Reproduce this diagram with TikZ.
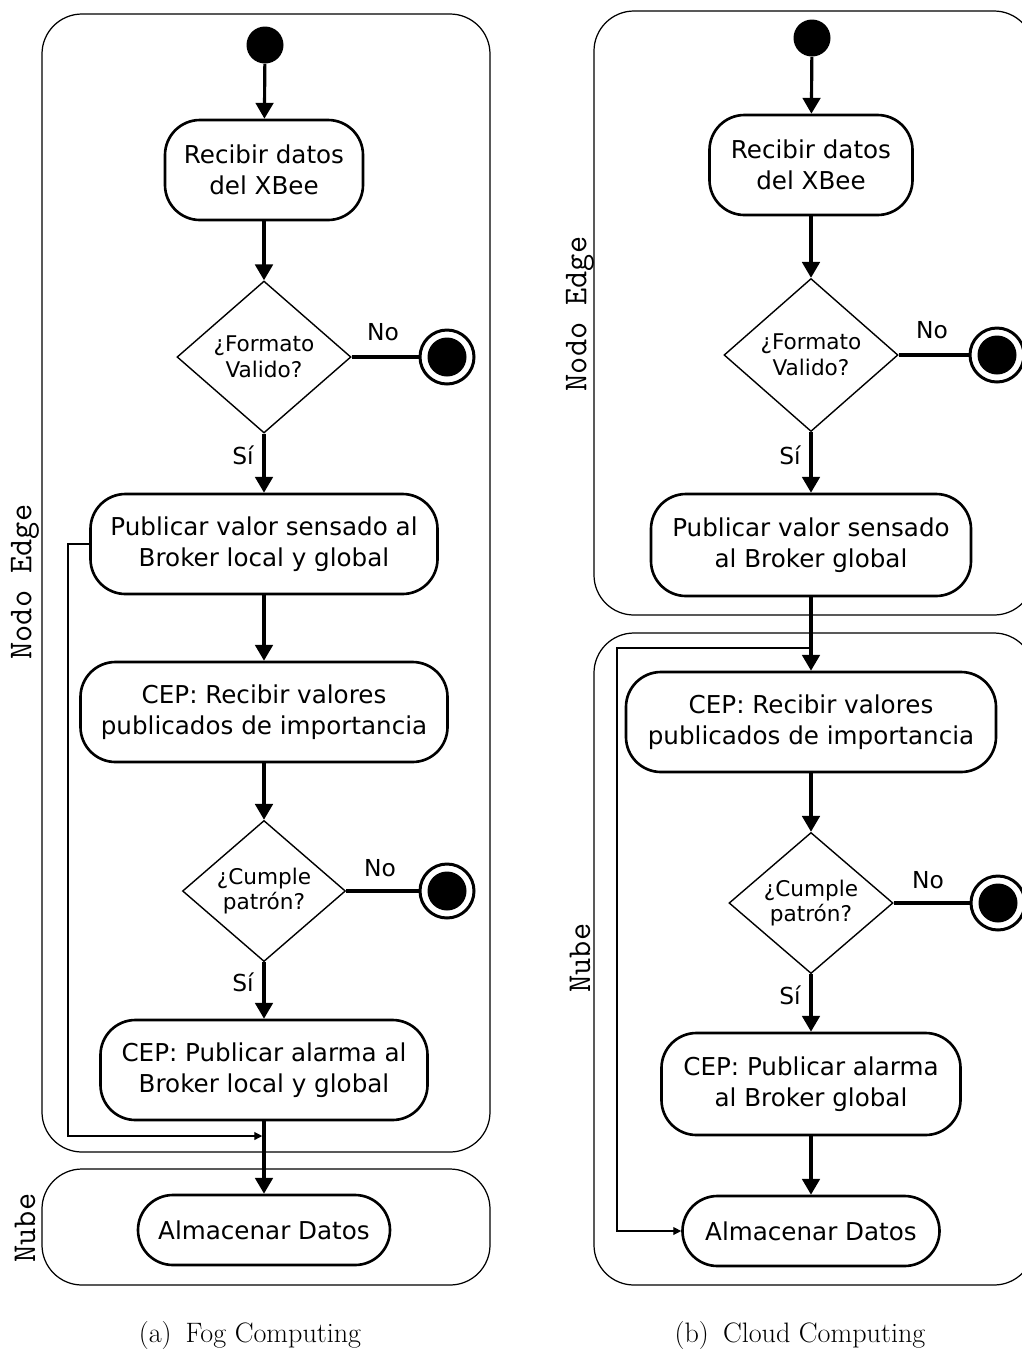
\documentclass[tikz,border=0pt]{standalone}
\usepackage{fontspec}
\newfontfamily\dejavu{DejaVu Sans}
\usetikzlibrary{shapes.geometric,arrows.meta}

\begin{document}
\begin{tikzpicture}[x=0.2mm, y=-0.2mm,
    lane/.style={draw, line width=0.7pt, rounded corners=0.8cm},
    lanetext/.style={rotate=90, font=\ttfamily\fontsize{19}{22}\selectfont},
    actividad/.style={draw, line width=1.5pt, rounded corners=0.7cm, align=center,
        inner sep=0pt, minimum height=2cm, font=\dejavu\fontsize{14}{17.6}\selectfont},
    decision/.style={draw, diamond, line width=0.8pt, align=center, inner sep=0pt,
        font=\dejavu\fontsize{12.3}{14.7}\selectfont},
    inicio/.style={circle, fill=black, minimum size=0.74cm, inner sep=0pt},
    fin/.style={circle, draw, line width=1.7pt, minimum size=1.08cm, inner sep=0pt,
        path picture={\fill (path picture bounding box.center) circle (0.39cm);}},
    etiqueta/.style={font=\dejavu\fontsize{13.3}{15}\selectfont},
    flujo/.style={-{Triangle[length=9pt, width=10pt]}, line width=1.8pt},
    retorno/.style={-{Triangle[length=4.5pt, width=4.5pt]}, line width=0.7pt}]

    \useasboundingbox (0,0) rectangle (1022,1352);

    % ---------- (a) Fog Computing ----------
    % Lanes
    \draw[lane] (42,14) rectangle (490,1152);
    \draw[lane] (42,1169) rectangle (490,1285);
    \node[lanetext] (laneA1) at (25,582) {Nodo Edge};
    \node[lanetext] (laneA2) at (25,1228) {Nube};

    % Activities
    \node[inicio] (iniA) at (265,45) {};
    \node[actividad, minimum width=3.96cm] (recA) at (264,170) {Recibir datos\\del XBee};
    \node[decision, minimum width=3.48cm, minimum height=3.04cm] (decA1) at (264,357) {¿Formato\\Valido?};
    \node[fin] (finA1) at (447,357) {};
    \node[actividad, minimum width=6.94cm] (pubA) at (264,544) {Publicar valor sensado al\\Broker local y global};
    \node[actividad, minimum width=7.34cm] (cepA) at (264,712) {CEP: Recibir valores\\publicados de importancia};
    \node[decision, minimum width=3.26cm, minimum height=2.76cm] (decA2) at (264,891) {¿Cumple\\patrón?};
    \node[fin] (finA2) at (447,891) {};
    \node[actividad, minimum width=6.54cm] (alaA) at (264,1070) {CEP: Publicar alarma al\\Broker local y global};
    \node[actividad, minimum width=5.04cm, minimum height=1.4cm] (almA) at (264,1230) {Almacenar Datos};

    % Labels
    \node[etiqueta] (noA1) at (383,332) {No};
    \node[etiqueta] (siA1) at (243,455) {Sí};
    \node[etiqueta] (noA2) at (380,868) {No};
    \node[etiqueta] (siA2) at (243,982) {Sí};

    % Flow
    \draw[flujo] (iniA) -- (recA);
    \draw[flujo] (recA) -- (decA1);
    \draw[line width=1.8pt] (decA1.east) -- (finA1);
    \draw[flujo] (decA1) -- (pubA);
    \draw[flujo] (pubA) -- (cepA);
    \draw[flujo] (cepA) -- (decA2);
    \draw[line width=1.8pt] (decA2.east) -- (finA2);
    \draw[flujo] (decA2) -- (alaA);
    \draw[flujo] (alaA) -- (almA);

    % Return line
    \coordinate (retA) at (68,1136);
    \draw[retorno, shorten >=1pt] (pubA.west) -- (pubA.west -| retA) -- (retA) -- (retA -| almA.north);

    % ---------- (b) Cloud Computing ----------
    % Lanes
    \draw[lane] (594,11) rectangle (1034,615);
    \draw[lane] (594,633) rectangle (1034,1285);
    \node[lanetext] (laneB1) at (580,314) {Nodo Edge};
    \node[lanetext] (laneB2) at (580,958) {Nube};

    % Activities
    \node[inicio] (iniB) at (812,38) {};
    \node[actividad, minimum width=4.06cm] (recB) at (811,165) {Recibir datos\\del XBee};
    \node[decision, minimum width=3.48cm, minimum height=3.06cm] (decB1) at (811,355) {¿Formato\\Valido?};
    \node[fin] (finB1) at (997,355) {};
    \node[actividad, minimum width=6.4cm, minimum height=2.04cm] (pubB) at (811,545) {Publicar valor sensado\\al Broker global};
    \node[actividad, minimum width=7.4cm] (cepB) at (811,722) {CEP: Recibir valores\\publicados de importancia};
    \node[decision, minimum width=3.28cm, minimum height=2.78cm] (decB2) at (811,903) {¿Cumple\\patrón?};
    \node[fin] (finB2) at (998,903) {};
    \node[actividad, minimum width=5.98cm, minimum height=2.04cm] (alaB) at (811,1084) {CEP: Publicar alarma\\al Broker global};
    \node[actividad, minimum width=5.14cm, minimum height=1.4cm] (almB) at (811,1231) {Almacenar Datos};

    % Labels
    \node[etiqueta] (noB1) at (932,330) {No};
    \node[etiqueta] (siB1) at (790,455) {Sí};
    \node[etiqueta] (noB2) at (928,880) {No};
    \node[etiqueta] (siB2) at (790,995) {Sí};

    % Flow
    \draw[flujo] (iniB) -- (recB);
    \draw[flujo] (recB) -- (decB1);
    \draw[line width=1.8pt] (decB1.east) -- (finB1);
    \draw[flujo] (decB1) -- (pubB);
    \draw[flujo] (pubB) -- (cepB);
    \draw[flujo] (cepB) -- (decB2);
    \draw[line width=1.8pt] (decB2.east) -- (finB2);
    \draw[flujo] (decB2) -- (alaB);
    \draw[flujo] (alaB) -- (almB);

    % Return line
    \coordinate (retB) at (617,648);
    \draw[retorno] (pubB.south |- retB) -- (retB) |- (almB.west);

    % Captions
    \node[font=\fontsize{16}{19}\selectfont] (capA) at (250,1335) {(a)\enspace Fog Computing};
    \node[font=\fontsize{16}{19}\selectfont] (capB) at (800,1335) {(b)\enspace Cloud Computing};
\end{tikzpicture}
\end{document}
